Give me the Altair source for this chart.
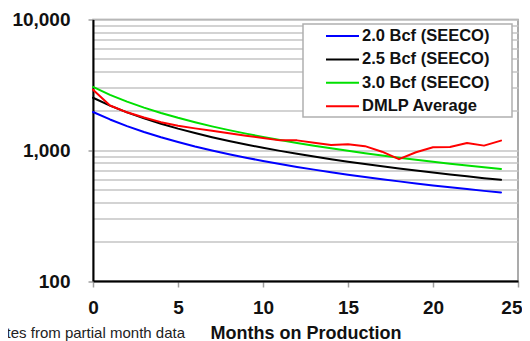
import altair as alt
import pandas as pd

months = list(range(25))
bcf20 = [1960, 1720, 1530, 1380, 1258, 1157, 1070, 997, 933, 877, 828, 784, 746,
         711, 679, 650, 624, 600, 578, 557, 538, 521, 505, 489, 475]
bcf25 = [2520, 2195, 1947, 1752, 1594, 1463, 1353, 1259, 1178, 1107, 1045, 989, 940,
         895, 855, 818, 785, 754, 726, 699, 675, 653, 632, 612, 594]
bcf30 = [3050, 2655, 2355, 2120, 1929, 1770, 1637, 1523, 1425, 1340, 1265, 1197, 1137,
         1083, 1035, 990, 950, 912, 878, 846, 817, 790, 765, 741, 720]
dmlp = [2900, 2200, 1950, 1780, 1640, 1540, 1470, 1410, 1350, 1290, 1240, 1190, 1190,
        1140, 1095, 1110, 1075, 975, 855, 965, 1055, 1060, 1135, 1085, 1185]

series_names = ["2.0 Bcf (SEECO)", "2.5 Bcf (SEECO)", "3.0 Bcf (SEECO)", "DMLP Average"]
series_colors = ["#0000ff", "#000000", "#00e000", "#ff0000"]
series_widths = [2, 2, 2, 3.5]

x_ticks = [0, 5, 10, 15, 20, 25]
y_major = [100, 1000, 10000]
y_grid = [100, 200, 300, 400, 500, 600, 700, 800, 900,
          1000, 2000, 3000, 4000, 5000, 6000, 7000, 8000, 9000, 10000]
x_title = "Months on Production"
note = "Rates from partial month data"

rows = []
for name, vals in zip(series_names, [bcf20, bcf25, bcf30, dmlp]):
    for m, v in zip(months, vals):
        rows.append({"month": m, "rate": v, "series": name})
df = pd.DataFrame(rows)

FONT = "Liberation Sans"
major_test = " || ".join(f"datum.value == {v}" for v in y_major)
last_test = f"datum.value == {x_ticks[-1]}"

x_axis = alt.Axis(
    values=x_ticks, title=x_title, grid=False,
    tickColor="#a0a0a0", tickSize=6, tickWidth=1.5,
    labelPadding=26, labelBaseline="alphabetic", labelFlush=False,
    labelAlign={"condition": {"test": last_test, "value": "right"}, "value": "center"},
    labelOffset={"condition": {"test": last_test, "value": 4}, "value": 0},
    labelFont=FONT, labelFontSize=19, labelFontWeight="bold", labelColor="#111111",
    domainColor="#000000", domainWidth=2,
    titleFont=FONT, titleFontSize=18, titleFontWeight="bold", titleColor="#111111",
    titleY=57, titleBaseline="alphabetic",
)
y_axis = alt.Axis(
    values=y_grid, title=None, grid=True, gridColor="#c4c4c4", gridWidth=1.5,
    labelExpr=f"({major_test}) ? format(datum.value, ',') : ''",
    labelOverlap=False,
    tickOpacity={"condition": {"test": major_test, "value": 1}, "value": 0},
    tickColor="#a0a0a0", tickSize=5, tickWidth=1.5,
    labelPadding=18, labelBaseline="middle",
    labelFont=FONT, labelFontSize=19, labelFontWeight="bold", labelColor="#111111",
    domainColor="#000000", domainWidth=2,
)

lines = alt.Chart(df).mark_line(strokeJoin="round", strokeCap="round").encode(
    x=alt.X("month:Q", scale=alt.Scale(domain=[0, 25], nice=False), axis=x_axis),
    y=alt.Y("rate:Q", scale=alt.Scale(type="log", domain=[100, 10000], nice=False), axis=y_axis),
    color=alt.Color(
        "series:N",
        scale=alt.Scale(domain=series_names, range=series_colors),
        legend=alt.Legend(
            title=None, orient="none", legendX=210, legendY=4.5,
            symbolType="stroke", symbolSize=1089, symbolStrokeWidth=3,
            clipHeight=17, rowPadding=6.4, padding=3.5,
            symbolOffset=18.5, labelOffset=2, labelLimit=0,
            labelFont=FONT, labelFontSize=16.5, labelFontWeight="bold", labelColor="#111111",
            fillColor="transparent", strokeColor="transparent",
        ),
    ),
    strokeWidth=alt.StrokeWidth(
        "series:N", scale=alt.Scale(domain=series_names, range=series_widths), legend=None
    ),
)

# legend frame (decoration behind the legend entries)
frame = alt.Chart(pd.DataFrame({"k": [0]})).mark_rect(
    fill="#ffffff", stroke="#b0b0b0", strokeWidth=1.5
).encode(x=alt.value(210), x2=alt.value(419), y=alt.value(4.5), y2=alt.value(97.5))

note_df = pd.DataFrame({"note": [note]})
note_layer = alt.Chart(note_df).mark_text(
    align="right", baseline="alphabetic", fontSize=15, font=FONT, color="#222222"
).encode(x=alt.value(92), y=alt.value(318.5), text="note:N")

chart = alt.layer(lines, frame, note_layer).properties(
    width=425, height=261.5,
    autosize=alt.AutoSizeParams(type="none"),
    padding={"left": 85, "top": 11.5, "right": 4, "bottom": 60},
).configure_view(stroke="#909090", strokeWidth=1.5)

chart.save("out.html", embed_options={"renderer": "svg", "actions": False})
